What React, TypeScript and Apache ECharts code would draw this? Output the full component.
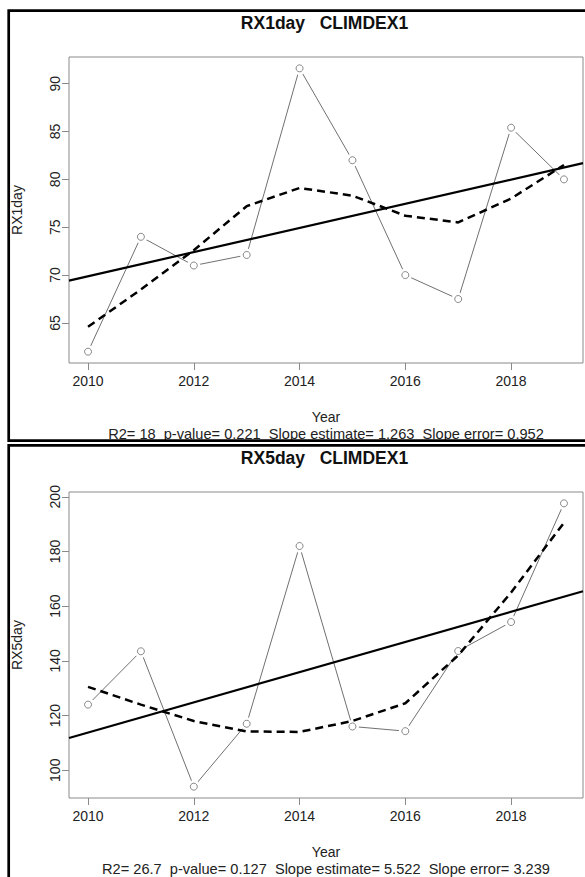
import React, { useEffect, useRef } from "react";
import * as echarts from "echarts";

// Years of record and the axis ticks shown under each panel
const years = [2010, 2011, 2012, 2013, 2014, 2015, 2016, 2017, 2018, 2019];
const yearTicks = [2010, 2012, 2014, 2016, 2018];

// RX1day: annual maximum 1-day precipitation
const rx1day = [62, 74, 71, 72.1, 91.6, 82, 70, 67.5, 85.4, 80];
const rx1daySmooth = [64.6, 68.5, 72.6, 77.2, 79.1, 78.3, 76.2, 75.5, 78.0, 81.5];
const rx1dayTicks = [65, 70, 75, 80, 85, 90];
const rx1dayR2 = "18";
const rx1dayP = "0.221";
const rx1daySlope = 1.263;
const rx1daySlopeErr = "0.952";

// RX5day: annual maximum consecutive 5-day precipitation
const rx5day = [124, 143.5, 94, 117, 182, 116, 114.3, 143.6, 154.2, 197.6];
const rx5daySmooth = [130.5, 124, 118, 114.2, 114, 118, 124.5, 142, 165, 190.5];
const rx5dayTicks = [100, 120, 140, 160, 180, 200];
const rx5dayR2 = "26.7";
const rx5dayP = "0.127";
const rx5daySlope = 5.522;
const rx5daySlopeErr = "3.239";

const FONT = "'Liberation Sans', Arial, sans-serif";

// R-style axis limits: data range padded by 4% on each side
function pad(values: number[]): [number, number] {
  const lo = Math.min(...values);
  const hi = Math.max(...values);
  const d = (hi - lo) * 0.04;
  return [lo - d, hi + d];
}

interface Panel {
  name: string;
  values: number[];
  smooth: number[];
  ticks: number[];
  r2: string;
  p: string;
  slope: number;
  slopeErr: string;
  top: number;
}

const panels: Panel[] = [
  { name: "RX1day", values: rx1day, smooth: rx1daySmooth, ticks: rx1dayTicks, r2: rx1dayR2, p: rx1dayP, slope: rx1daySlope, slopeErr: rx1daySlopeErr, top: 57 },
  { name: "RX5day", values: rx5day, smooth: rx5daySmooth, ticks: rx5dayTicks, r2: rx5dayR2, p: rx5dayP, slope: rx5daySlope, slopeErr: rx5daySlopeErr, top: 492 },
];

const PLOT_LEFT = 69;
const PLOT_W = 514;
const PLOT_H = 306;
const CENTER_X = PLOT_LEFT + PLOT_W / 2;

function buildOption() {
  const [xMin, xMax] = pad(years);
  const grid: any[] = [];
  const xAxis: any[] = [];
  const yAxis: any[] = [];
  const series: any[] = [];
  const graphic: any[] = [];

  panels.forEach((pn, i) => {
    const [yMin, yMax] = pad(pn.values);
    grid.push({
      left: PLOT_LEFT,
      top: pn.top,
      width: PLOT_W,
      height: PLOT_H,
      show: true,
      borderColor: "#8a8a8a",
      borderWidth: 1,
      backgroundColor: "transparent",
    });
    xAxis.push({
      type: "value",
      gridIndex: i,
      min: xMin,
      max: xMax,
      name: "Year",
      nameLocation: "middle",
      nameGap: 47,
      nameTextStyle: { fontFamily: FONT, fontSize: 14, color: "#222" },
      axisLine: { show: false },
      splitLine: { show: false },
      axisTick: { show: true, length: 7, customValues: yearTicks, lineStyle: { color: "#8a8a8a", width: 1 } },
      axisLabel: {
        customValues: yearTicks,
        margin: 11,
        fontFamily: FONT,
        fontSize: 14,
        color: "#222",
        formatter: (v: number) => String(v),
      },
    });
    yAxis.push({
      type: "value",
      gridIndex: i,
      min: yMin,
      max: yMax,
      name: pn.name,
      nameLocation: "middle",
      nameRotate: 90,
      nameGap: 45,
      nameTextStyle: { fontFamily: FONT, fontSize: 14, color: "#222" },
      axisLine: { show: false },
      splitLine: { show: false },
      axisTick: { show: true, length: 7, customValues: pn.ticks, lineStyle: { color: "#8a8a8a", width: 1 } },
      axisLabel: {
        customValues: pn.ticks,
        rotate: 90,
        margin: 7,
        fontFamily: FONT,
        fontSize: 14,
        color: "#222",
        formatter: (v: number) => String(v),
      },
    });

    const pts = years.map((y, k) => [y, pn.values[k]]);
    // Least-squares line passes through the mean point with the reported slope
    const xMean = years.reduce((a, b) => a + b, 0) / years.length;
    const yMean = pn.values.reduce((a, b) => a + b, 0) / pn.values.length;
    const fit = (x: number) => yMean + pn.slope * (x - xMean);

    // observed series: thin line broken around each point (type "b")
    series.push({
      type: "line",
      xAxisIndex: i,
      yAxisIndex: i,
      data: pts,
      z: 2,
      silent: true,
      symbol: "circle",
      symbolSize: 13,
      itemStyle: { color: "#ffffff", borderWidth: 0 },
      lineStyle: { color: "#707070", width: 1 },
    });
    series.push({
      type: "scatter",
      xAxisIndex: i,
      yAxisIndex: i,
      data: pts,
      z: 3,
      silent: true,
      symbol: "circle",
      symbolSize: 7,
      itemStyle: { color: "#ffffff", borderColor: "#5a5a5a", borderWidth: 0.9 },
    });
    // linear trend
    series.push({
      type: "line",
      xAxisIndex: i,
      yAxisIndex: i,
      data: [[xMin, fit(xMin)], [xMax, fit(xMax)]],
      z: 4,
      silent: true,
      symbol: "none",
      lineStyle: { color: "#000", width: 2.2 },
    });
    // smoothed curve
    series.push({
      type: "line",
      xAxisIndex: i,
      yAxisIndex: i,
      data: years.map((y, k) => [y, pn.smooth[k]]),
      z: 5,
      silent: true,
      symbol: "none",
      lineStyle: { color: "#000", width: 2.5, type: [8, 5] },
    });

    // panel heading
    graphic.push({
      type: "text",
      x: 324.5,
      y: pn.top - 34,
      style: {
        text: `${pn.name}   CLIMDEX1`,
        align: "center",
        verticalAlign: "middle",
        font: `bold 17.5px ${FONT}`,
        fill: "#111",
      },
      silent: true,
    });

    // regression summary line
    graphic.push({
      type: "text",
      x: CENTER_X,
      y: pn.top + PLOT_H + 71,
      style: {
        text: `R2= ${pn.r2}  p-value= ${pn.p}  Slope estimate= ${pn.slope.toFixed(3)}  Slope error= ${pn.slopeErr}`,
        align: "center",
        verticalAlign: "middle",
        font: `14.6px ${FONT}`,
        fill: "#222",
      },
      silent: true,
    });
  });

  // panel frames
  graphic.push({
    type: "rect",
    shape: { x: 8.7, y: 10.7, width: 620, height: 430 },
    style: { fill: "none", stroke: "#000", lineWidth: 2.7 },
    silent: true,
    z: 10,
  });
  graphic.push({
    type: "rect",
    shape: { x: 8.7, y: 445.3, width: 620, height: 500 },
    style: { fill: "none", stroke: "#000", lineWidth: 2.7 },
    silent: true,
    z: 10,
  });

  return {
    animation: false,
    backgroundColor: "#ffffff",
    grid,
    xAxis,
    yAxis,
    series,
    graphic,
  };
}

export default function App() {
  const ref = useRef<HTMLDivElement>(null);
  useEffect(() => {
    if (!ref.current) return;
    const chart = echarts.init(ref.current, undefined, { renderer: "svg" });
    chart.setOption(buildOption() as any);
    return () => chart.dispose();
  }, []);
  return (
    <div
      ref={ref}
      style={{ position: "absolute", left: 0, top: 0, width: 585, height: 877 }}
    />
  );
}
